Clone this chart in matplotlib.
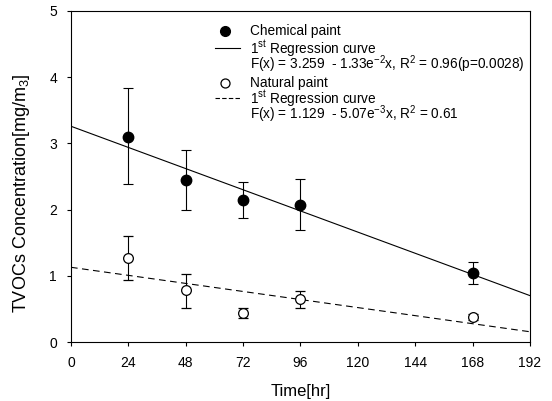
import numpy as np
import matplotlib
matplotlib.use('Agg')
import matplotlib.pyplot as plt

plt.rcParams['font.family'] = ['Liberation Sans', 'DejaVu Sans']
plt.rcParams['mathtext.fontset'] = 'custom'
plt.rcParams['mathtext.rm'] = 'Liberation Sans'
plt.rcParams['mathtext.it'] = 'Liberation Sans'

# data
time = [24, 48, 72, 96, 168]
chem_mean = [3.10, 2.45, 2.15, 2.07, 1.04]
chem_lo = [2.39, 2.00, 1.88, 1.69, 0.88]
chem_hi = [3.83, 2.90, 2.42, 2.46, 1.21]
nat_mean = [1.27, 0.79, 0.44, 0.65, 0.38]
nat_lo = [0.94, 0.52, 0.36, 0.52, 0.34]
nat_hi = [1.60, 1.03, 0.52, 0.77, 0.43]

# regression coefficients from the legend
chem_a, chem_b = 3.259, -1.332e-2
nat_a, nat_b = 1.129, -5.07e-3

xticks = [0, 24, 48, 72, 96, 120, 144, 168, 192]
yticks = [0, 1, 2, 3, 4, 5]

legend_text = [
    'Chemical paint',
    '1$^{st}$ Regression curve\nF(x) = 3.259  - 1.33e$^{-2}$x, R$^2$ = 0.96(p=0.0028)',
    'Natural paint',
    '1$^{st}$ Regression curve\nF(x) = 1.129  - 5.07e$^{-3}$x, R$^2$ = 0.61',
]

fig = plt.figure(figsize=(5.52, 4.01), dpi=100)
ax = fig.add_axes([0.1286, 0.147, 0.8314, 0.8256])

xr = np.array([0, 192])
ax.plot(xr, chem_a + chem_b * xr, color='k', lw=0.8)
ax.plot(xr, nat_a + nat_b * xr, color='k', lw=0.8, ls=(0, (6, 4)))

cm = np.array(chem_mean)
ax.errorbar(time, chem_mean, yerr=[cm - np.array(chem_lo), np.array(chem_hi) - cm],
            fmt='o', color='k', ms=7.5, elinewidth=0.8, capsize=3.5, capthick=0.8)
nm = np.array(nat_mean)
ax.errorbar(time, nat_mean, yerr=[nm - np.array(nat_lo), np.array(nat_hi) - nm],
            fmt='o', color='k', mfc='white', ms=7, mew=0.9, elinewidth=0.8,
            capsize=3.5, capthick=0.8)

ax.set_xlim(0, 192)
ax.set_ylim(0, 5)
ax.set_xticks(xticks)
ax.set_yticks(yticks)
ax.tick_params(direction='out', length=3, width=0.8, labelsize=10, pad=7)
for s in ax.spines.values():
    s.set_linewidth(0.8)
ax.set_xlabel('Time[hr]', fontsize=12, labelpad=10)
ax.set_ylabel('TVOCs Concentration[mg/m$_3$]', fontsize=13)
ax.yaxis.set_label_coords(-0.086, 0.45)

# hand-placed legend block (as in the original figure)
rows = [0.940, 0.888, 0.782, 0.737]
tx = 0.390
ax.text(tx, rows[0], legend_text[0], transform=ax.transAxes, fontsize=9.8, va='center')
ax.text(tx, rows[1] + 0.028, legend_text[1], transform=ax.transAxes, fontsize=9.8,
        va='top', linespacing=0.6)
ax.text(tx, rows[2], legend_text[2], transform=ax.transAxes, fontsize=9.8, va='center')
ax.text(tx, rows[3] + 0.028, legend_text[3], transform=ax.transAxes, fontsize=9.8,
        va='top', linespacing=0.6)
ax.plot([0.3355], [rows[0]], 'o', color='k', ms=7, transform=ax.transAxes, clip_on=False)
ax.plot([0.314, 0.368], [rows[1]] * 2, color='k', lw=0.8, transform=ax.transAxes)
ax.plot([0.3355], [rows[2]], 'o', color='k', mfc='white', ms=6.5, mew=0.9,
        transform=ax.transAxes, clip_on=False)
ax.plot([0.314, 0.368], [rows[3]] * 2, color='k', lw=0.8, ls=(0, (4, 2)),
        transform=ax.transAxes)

fig.savefig('out.png', dpi=100)
